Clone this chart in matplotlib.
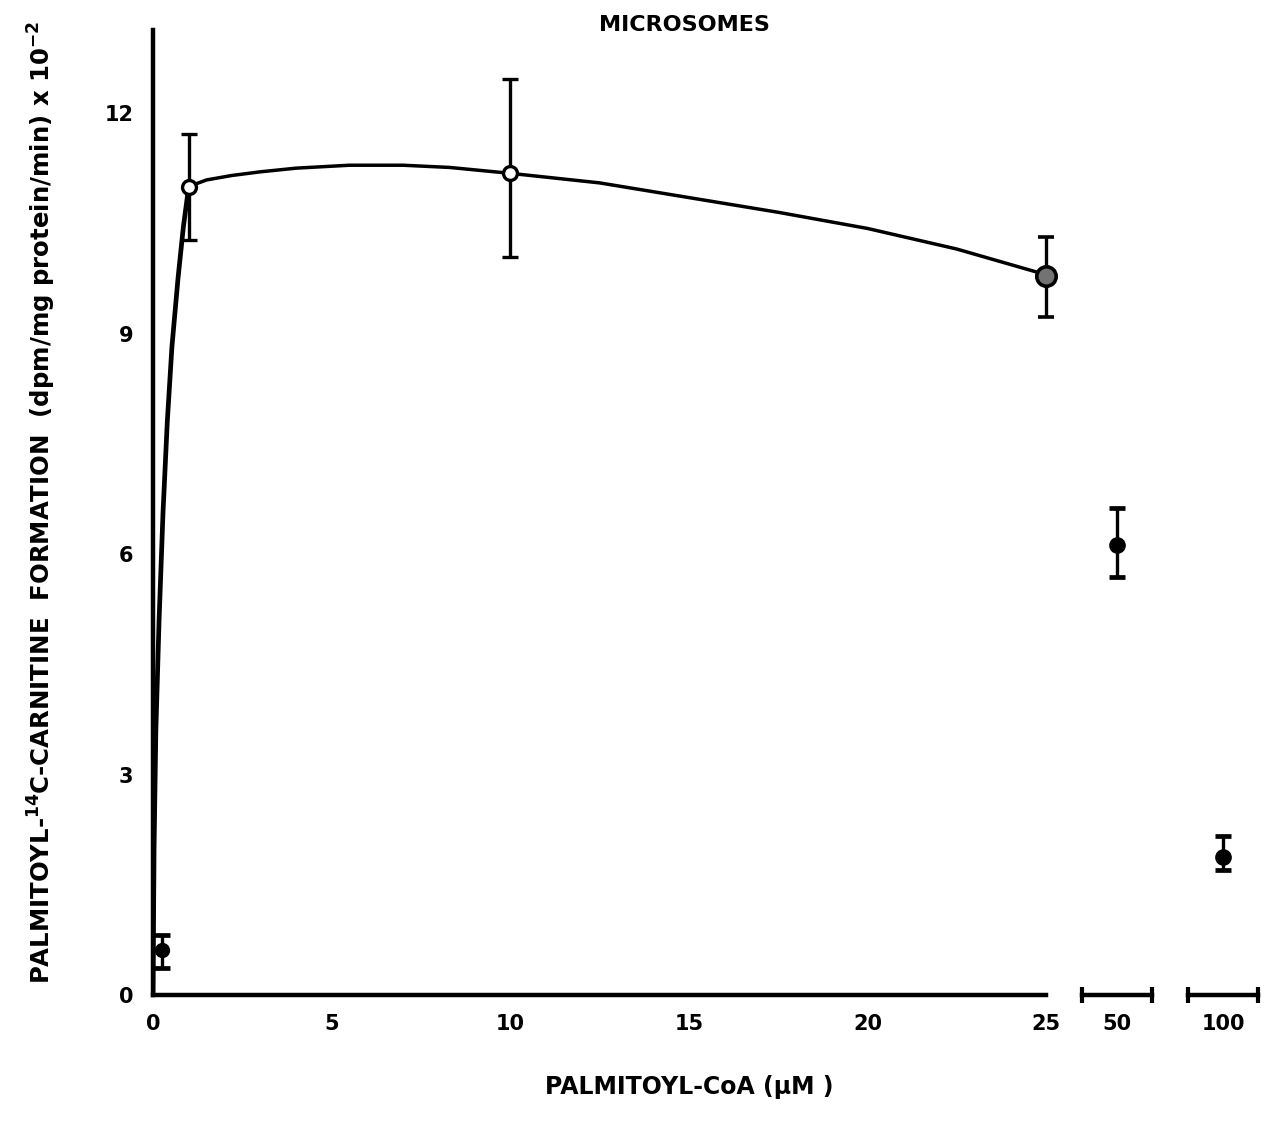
import matplotlib
matplotlib.use("Agg")
import matplotlib.pyplot as plt

# hand-drawn curve through the open circles
rise_x = [0.0, 0.03, 0.08, 0.17, 0.28, 0.40, 0.53, 0.70, 0.85, 1.0]
rise_y = [0.0, 2.0, 3.6, 5.1, 6.56, 7.8, 8.82, 9.75, 10.45, 11.0]
curve_x = [1.0, 1.5, 2.2, 3.0, 4.0, 5.5, 7.0, 8.3, 10.0, 12.5, 15.0, 17.5, 20.0, 22.5, 25.0]
curve_y = [11.0, 11.09, 11.15, 11.2, 11.25, 11.29, 11.29, 11.26, 11.18, 11.05, 10.85, 10.65, 10.43, 10.15, 9.8]

# open circles (mean, low/high of error bar)
open_x = [1, 10]
open_y = [11.0, 11.18]
open_lo = [10.27, 10.04]
open_hi = [11.71, 12.46]

# shaded point at 25 uM
mid_x = [25]
mid_y = [9.78]
mid_lo = [9.22]
mid_hi = [10.31]

# filled circles
fill_x = [0.25]
fill_y = [0.61]
fill_lo = [0.37]
fill_hi = [0.82]
fill50_y, fill50_lo, fill50_hi = [6.12], [5.69], [6.63]
fill100_y, fill100_lo, fill100_hi = [1.88], [1.70], [2.16]

x_ticks = [0, 5, 10, 15, 20, 25]
y_ticks = [0, 3, 6, 9, 12]


def yerr(y, lo, hi):
    return [[a - b for a, b in zip(y, lo)], [c - a for a, c in zip(y, hi)]]


plt.rcParams["font.family"] = ["DejaVu Sans"]
plt.rcParams["font.weight"] = "bold"
plt.rcParams["axes.labelweight"] = "bold"
plt.rcParams["mathtext.default"] = "bf"

W, H = 1275, 1130
fig = plt.figure(figsize=(W / 100, H / 100), dpi=100)

bottom = (H - 995) / H
height = (995 - 30) / H
ymax = 13.13


def make_ax(left_px, right_px):
    ax = fig.add_axes([left_px / W, bottom, (right_px - left_px) / W, height])
    ax.set_ylim(0, ymax)
    for s in ("top", "right"):
        ax.spines[s].set_visible(False)
    ax.spines["bottom"].set_linewidth(3.2)
    ax.spines["left"].set_linewidth(3.2)
    ax.tick_params(axis="both", which="major", length=0, labelsize=15, pad=14)
    ax.tick_params(axis="x", which="minor", direction="inout", length=11, width=3)
    ax.patch.set_alpha(0)
    return ax


ebkw = dict(fmt="o", color="black", ecolor="black", elinewidth=2.4,
            capsize=6, capthick=3.4, zorder=4)


def unclip(cont):
    for grp in cont[1:]:
        for a in grp:
            a.set_clip_on(False)
    cont[0].set_clip_on(False)


# main axis 0-25
ax = make_ax(153, 1046)
ax.set_xlim(0, 25)
ax.set_xticks(x_ticks)
ax.set_xticks([25], minor=True)
ax.set_yticks(y_ticks)

ax.plot(rise_x, rise_y, color="black", lw=3.4, solid_capstyle="round", zorder=3)
ax.plot(curve_x, curve_y, color="black", lw=2.5, zorder=3)

unclip(ax.errorbar(open_x, open_y, yerr=yerr(open_y, open_lo, open_hi),
                   ms=10, mfc="white", mec="black", mew=2.4, **ebkw))
unclip(ax.errorbar(mid_x, mid_y, yerr=yerr(mid_y, mid_lo, mid_hi),
                   ms=14, mfc="0.45", mec="black", mew=2.6, **ebkw))
unclip(ax.errorbar(fill_x, fill_y, yerr=yerr(fill_y, fill_lo, fill_hi),
                   ms=10, mfc="black", mec="black", **ebkw))

fig.text(684 / W, 1 - 31 / H, "MICROSOMES", fontsize=16, fontweight="bold",
         ha="center", va="baseline")
ax.set_xlabel("PALMITOYL-CoA (\u00b5M )", fontsize=17)
ax.xaxis.set_label_coords(0.601, -0.083)
ax.set_ylabel("PALMITOYL-$^{14}$C-CARNITINE  FORMATION  (dpm/mg protein/min) x 10$^{-2}$",
              fontsize=17.6)
ax.yaxis.set_label_coords(-0.106, 0.51)

# broken-axis segments for 50 and 100 uM
for (l, r, xc, yv, lo, hi) in [(1082, 1152, 50, fill50_y, fill50_lo, fill50_hi),
                                (1188, 1258, 100, fill100_y, fill100_lo, fill100_hi)]:
    axs = make_ax(l, r)
    axs.spines["left"].set_visible(False)
    axs.set_xlim(xc - 5, xc + 5)
    axs.set_xticks([xc])
    axs.set_xticks([xc - 5, xc + 5], minor=True)
    axs.set_yticks([])
    unclip(axs.errorbar([xc], yv, yerr=yerr(yv, lo, hi), ms=11, mfc="black",
                        mec="black", **ebkw))

fig.savefig("out.png", dpi=100)
